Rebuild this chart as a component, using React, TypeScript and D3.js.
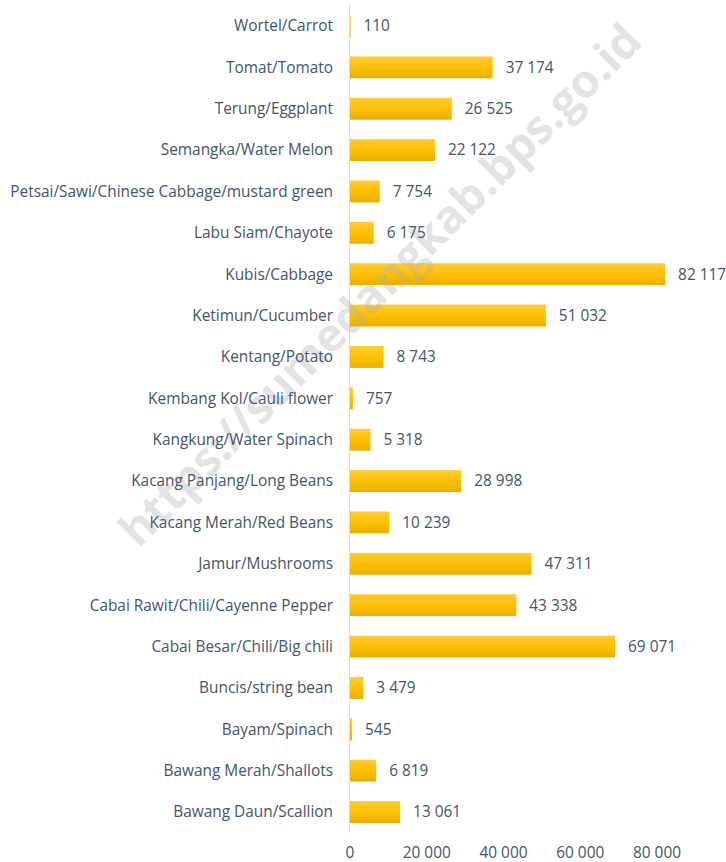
import React, { useEffect, useRef } from "react";
import * as d3 from "d3";

const categories = [
  "Wortel/Carrot",
  "Tomat/Tomato",
  "Terung/Eggplant",
  "Semangka/Water Melon",
  "Petsai/Sawi/Chinese Cabbage/mustard green",
  "Labu Siam/Chayote",
  "Kubis/Cabbage",
  "Ketimun/Cucumber",
  "Kentang/Potato",
  "Kembang Kol/Cauli flower",
  "Kangkung/Water Spinach",
  "Kacang Panjang/Long Beans",
  "Kacang Merah/Red Beans",
  "Jamur/Mushrooms",
  "Cabai Rawit/Chili/Cayenne Pepper",
  "Cabai Besar/Chili/Big chili",
  "Buncis/string bean",
  "Bayam/Spinach",
  "Bawang Merah/Shallots",
  "Bawang Daun/Scallion",
];

const values = [
  110, 37174, 26525, 22122, 7754, 6175, 82117, 51032, 8743, 757, 5318, 28998,
  10239, 47311, 43338, 69071, 3479, 545, 6819, 13061,
];

const xTicks = [0, 20000, 40000, 60000, 80000];

const watermark = "https://sumedangkab.bps.go.id";

const W = 726;
const H = 862;

const App = () => {
  const ref = useRef<SVGSVGElement>(null);

  useEffect(() => {
    const svg = d3.select(ref.current);
    svg.selectAll("*").remove();

    const font = "'Open Sans', Lato, sans-serif";
    const fontSize = 15.4;
    const textColor = "#44546A";

    const fmt = d3.formatLocale({
      decimal: ",",
      thousands: " ",
      grouping: [3],
      currency: ["", ""],
    }).format(",d");

    const x = d3.scaleLinear().domain([0, 80000]).range([350, 657]);
    const y = d3
      .scaleBand()
      .domain(categories)
      .range([5.3, 832.7])
      .paddingInner(0.47)
      .paddingOuter(0.235);

    // bar gradient
    const defs = svg.append("defs");
    const grad = defs
      .append("linearGradient")
      .attr("id", "barGrad")
      .attr("x1", 0)
      .attr("y1", 0)
      .attr("x2", 0)
      .attr("y2", 1);
    grad.append("stop").attr("offset", "0%").attr("stop-color", "#FFCB3C");
    grad.append("stop").attr("offset", "50%").attr("stop-color", "#FFC000");
    grad.append("stop").attr("offset", "100%").attr("stop-color", "#E6B000");

    // axis line
    svg
      .append("line")
      .attr("x1", x(0) - 0.5)
      .attr("x2", x(0) - 0.5)
      .attr("y1", 5)
      .attr("y2", 833)
      .attr("stroke", "#D9D9D9")
      .attr("stroke-width", 1);

    const data = categories.map((c, i) => ({ c, v: values[i] }));

    svg
      .append("g")
      .selectAll("rect")
      .data(data)
      .enter()
      .append("rect")
      .attr("x", x(0))
      .attr("y", (d) => y(d.c)!)
      .attr("width", (d) => Math.max(x(d.v) - x(0), 0.6))
      .attr("height", y.bandwidth())
      .attr("fill", "url(#barGrad)");

    // watermark (over bars, under text)
    svg
      .append("text")
      .attr("transform", "translate(380,285) rotate(-45)")
      .attr("text-anchor", "middle")
      .attr("dy", "0.35em")
      .attr("font-family", "'Open Sans', Arial, sans-serif")
      .attr("font-weight", "bold")
      .attr("font-size", 46)
      .attr("fill", "#B0B0B0")
      .attr("fill-opacity", 0.35)
      .text(watermark);

    const labels = svg.append("g");

    labels
      .selectAll("text.cat")
      .data(data)
      .enter()
      .append("text")
      .attr("class", "cat")
      .attr("x", 333)
      .attr("y", (d) => y(d.c)! + y.bandwidth() / 2)
      .attr("dy", "0.35em")
      .attr("text-anchor", "end")
      .attr("font-family", font)
      .attr("font-size", fontSize)
      .attr("fill", textColor)
      .text((d) => d.c);

    labels
      .selectAll("text.val")
      .data(data)
      .enter()
      .append("text")
      .attr("class", "val")
      .attr("x", (d) => x(d.v) + 13)
      .attr("y", (d) => y(d.c)! + y.bandwidth() / 2)
      .attr("dy", "0.35em")
      .attr("font-family", font)
      .attr("font-size", fontSize)
      .attr("fill", textColor)
      .text((d) => fmt(d.v));

    // x tick labels
    svg
      .append("g")
      .selectAll("text")
      .data(xTicks)
      .enter()
      .append("text")
      .attr("x", (d) => x(d))
      .attr("y", 853)
      .attr("dy", "0.35em")
      .attr("text-anchor", "middle")
      .attr("font-family", font)
      .attr("font-size", fontSize)
      .attr("fill", textColor)
      .text((d) => fmt(d));

    return () => {
      svg.selectAll("*").remove();
    };
  }, []);

  return (
    <svg
      ref={ref}
      width={W}
      height={H}
      style={{ position: "absolute", left: 0, top: 0, background: "#fff" }}
    ></svg>
  );
};

export default App;
